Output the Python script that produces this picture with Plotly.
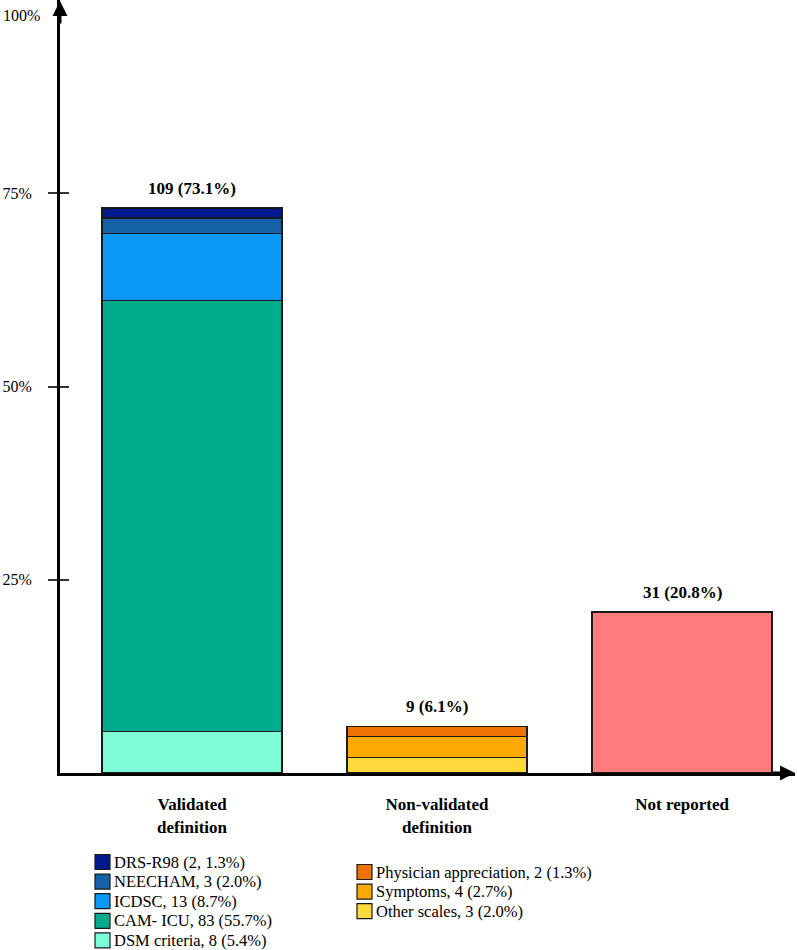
import plotly.graph_objects as go

# ---- data ----
categories = ["Validated definition", "Non-validated definition", "Not reported"]
category_labels = ["Validated<br>definition", "Non-validated<br>definition", "Not reported"]

validated_names = ["DSM criteria, 8 (5.4%)", "CAM- ICU, 83 (55.7%)", "ICDSC, 13 (8.7%)",
                   "NEECHAM, 3 (2.0%)", "DRS-R98 (2, 1.3%)"]
validated_values = [5.4, 55.7, 8.7, 2.0, 1.3]
validated_colors = ["#7dfdd8", "#00ab8e", "#0a97f6", "#1461a8", "#021a8e"]

nonvalidated_names = ["Other scales, 3 (2.0%)", "Symptoms, 4 (2.7%)", "Physician appreciation, 2 (1.3%)"]
nonvalidated_values = [2.0, 2.7, 1.3]
nonvalidated_colors = ["#ffda3a", "#ffa903", "#f07203"]

notreported_value = 20.8
notreported_color = "#fe7c7a"

totals = [73.1, 6.1, 20.8]
total_labels = ["109 (73.1%)", "9 (6.1%)", "31 (20.8%)"]

ytick_vals = [25, 50, 75]
ytick_text = ["25%", "50%", "75%"]

FONT = "Liberation Serif"
LINE = dict(color="#1a1a1a", width=1.5)
BARW = 0.735

# plot-area geometry (pixels) used to place the hand-made legend
W, H = 797, 950
ML, MR, MT, MB = 60, 2, 0, 177
PW, PH = W - ML - MR, H - MT - MB


def px_x(p):
    return (p - ML) / PW


def px_y(p):
    return (MT + PH - p) / PH


fig = go.Figure()
for n, v, c in zip(validated_names, validated_values, validated_colors):
    fig.add_trace(go.Bar(x=[categories[0]], y=[v], name=n, marker=dict(color=c, line=LINE),
                         width=BARW))
for n, v, c in zip(nonvalidated_names, nonvalidated_values, nonvalidated_colors):
    fig.add_trace(go.Bar(x=[categories[1]], y=[v], name=n, marker=dict(color=c, line=LINE),
                         width=BARW))
fig.add_trace(go.Bar(x=[categories[2]], y=[notreported_value], name="Not reported",
                     marker=dict(color=notreported_color, line=LINE), width=BARW))

# invisible trace to activate the overlay axis (inside tick marks)
fig.add_trace(go.Scatter(x=[categories[0]], y=[0], yaxis="y2", mode="markers",
                         marker=dict(opacity=0), hoverinfo="skip"))

for c, t, lab in zip(categories, totals, total_labels):
    fig.add_annotation(x=c, y=t, text="<b>%s</b>" % lab, showarrow=False, yanchor="bottom",
                       yshift=8, font=dict(family=FONT, size=17, color="black"))

# 100% label at the top of the axis
fig.add_annotation(xref="paper", yref="paper", x=px_x(1), y=px_y(15), xanchor="left", yanchor="middle",
                   text="100%", showarrow=False, font=dict(family=FONT, size=16, color="black"))

# axis arrowheads
fig.add_annotation(xref="paper", yref="paper", x=0, y=1, ax=0, ay=25, text="", showarrow=True,
                   arrowhead=2, arrowsize=1, arrowwidth=3, arrowcolor="black")
fig.add_annotation(xref="paper", yref="paper", x=1, y=0, ax=-25, ay=0, text="", showarrow=True,
                   arrowhead=2, arrowsize=1, arrowwidth=3, arrowcolor="black")

# legend (two columns, listed top-down)
legend_cols = [
    (list(reversed(validated_names)), list(reversed(validated_colors)), 95, 862),
    (list(reversed(nonvalidated_names)), list(reversed(nonvalidated_colors)), 357, 872),
]
ROW, SQ = 19.6, 15
for names, colors, x0, y0 in legend_cols:
    for i, (n, c) in enumerate(zip(names, colors)):
        yc = y0 + i * ROW
        fig.add_shape(type="rect", xref="paper", yref="paper",
                      x0=px_x(x0), x1=px_x(x0 + SQ), y0=px_y(yc - SQ / 2), y1=px_y(yc + SQ / 2),
                      fillcolor=c, line=dict(color="#1a1a1a", width=1.2))
        fig.add_annotation(xref="paper", yref="paper", x=px_x(x0 + SQ + 2), y=px_y(yc),
                           xanchor="left", yanchor="middle", text=n, showarrow=False,
                           font=dict(family=FONT, size=16.5, color="black"))

fig.update_layout(
    width=W, height=H,
    margin=dict(l=ML, r=MR, t=MT, b=MB, autoexpand=False),
    barmode="stack",
    showlegend=False,
    plot_bgcolor="white", paper_bgcolor="white",
    font=dict(family=FONT, size=16, color="black"),
    xaxis=dict(
        type="category", categoryorder="array", categoryarray=categories,
        tickvals=categories, ticktext=["<b>%s</b>" % s for s in category_labels],
        range=[-0.539, 2.461], showline=True, linewidth=3, linecolor="black",
        ticks="", showgrid=False, zeroline=False, ticklabelstandoff=14,
        tickfont=dict(family=FONT, size=17, color="black"),
    ),
    yaxis=dict(
        range=[0, 100], tickvals=ytick_vals, ticktext=ytick_text,
        showline=True, linewidth=3, linecolor="black",
        ticks="outside", ticklen=9, tickwidth=2, tickcolor="#333",
        showgrid=False, zeroline=False, ticklabelstandoff=13,
        tickfont=dict(family=FONT, size=16, color="black"),
    ),
    yaxis2=dict(
        overlaying="y", side="left", range=[0, 100], tickvals=ytick_vals,
        ticks="inside", ticklen=9, tickwidth=2, tickcolor="#333",
        showticklabels=False, showgrid=False, zeroline=False, showline=False,
    ),
)

fig.write_html("out.html", config={"displayModeBar": False},
               post_script="document.body.style.margin='0';")
